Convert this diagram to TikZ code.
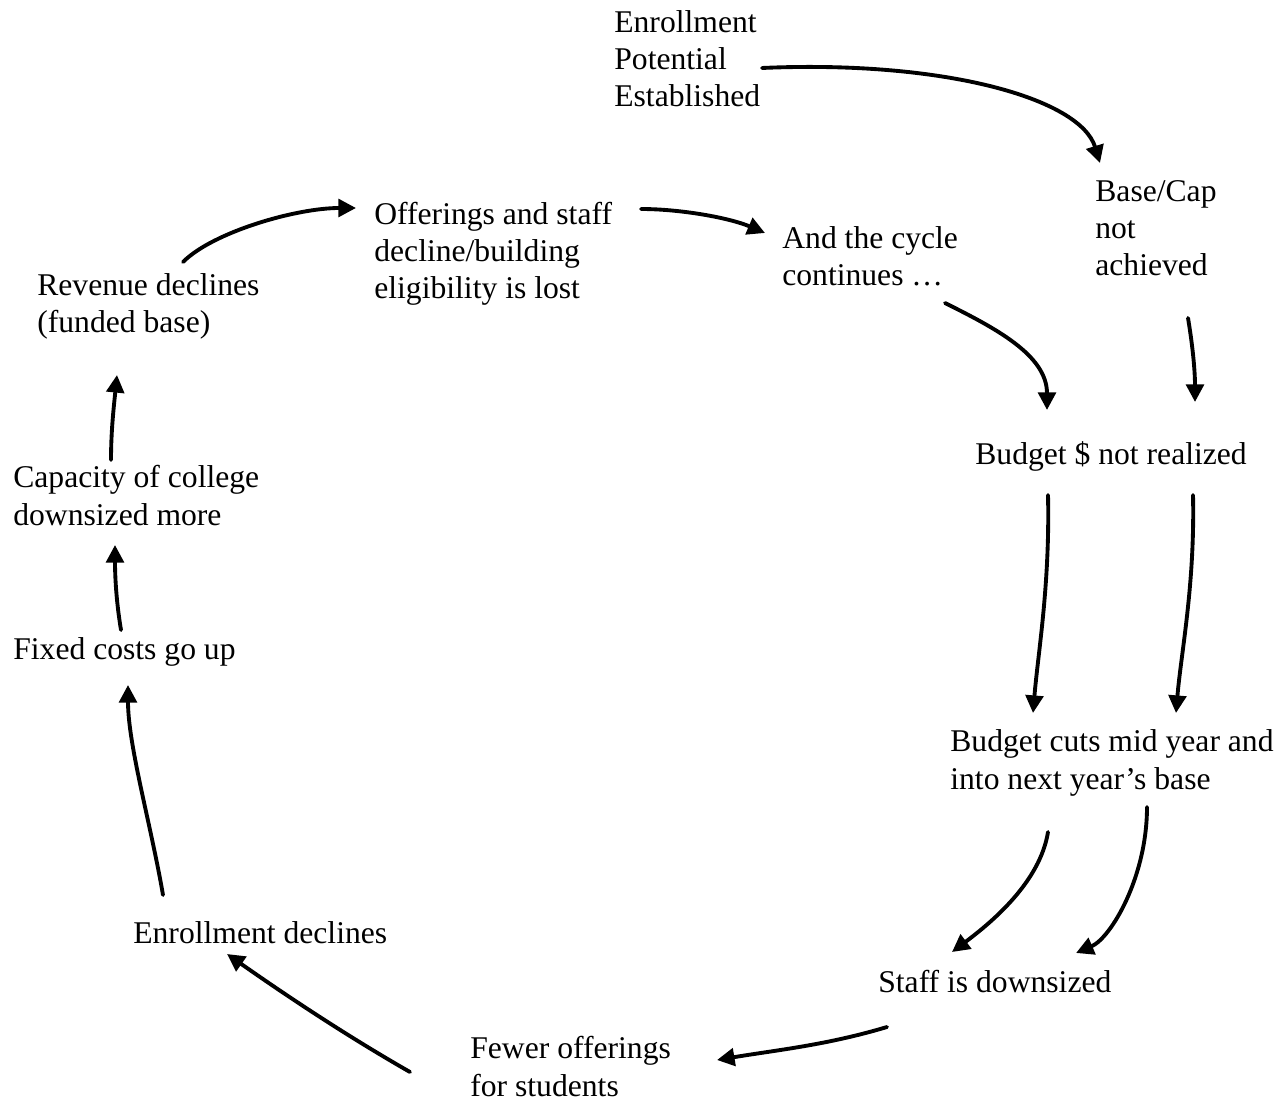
\documentclass[tikz,border=0pt]{standalone}
\usepackage{fontspec}
\setmainfont{Liberation Serif}
\usetikzlibrary{arrows.meta,calc}

\begin{document}
\begin{tikzpicture}[x=0.02cm, y=-0.02cm,
        lbl/.style={inner sep=0pt, anchor=base west, align=left,
            font=\fontsize{18}{21.3}\selectfont},
        arr/.style={line width=2.2pt, line cap=round,
            -{Triangle[length=10pt, width=10pt]}}]
        \useasboundingbox (0,0) rectangle (1281,1104);

        % nodes (placed at the baseline of their last line)
        \node[lbl] (enroll) at (614,107) {Enrollment\\Potential\\Established};
        \node[lbl] (basecap) at (1095,276) {Base/Cap\\not\\achieved};
        \node[lbl] (offer) at (374,299) {Offerings and staff\\decline/building\\eligibility is lost};
        \node[lbl] (cycle) at (782,286) {And the cycle\\continues …};
        \node[lbl] (revenue) at (37,333) {Revenue declines\\(funded base)};
        \node[lbl] (budget) at (975,465) {Budget \$ not realized};
        \node[lbl] (capacity) at (13,525) {Capacity of college\\downsized more};
        \node[lbl] (fixed) at (13,659) {Fixed costs go up};
        \node[lbl] (cuts) at (950,789) {Budget cuts mid year and\\into next year’s base};
        \node[lbl] (enrolldec) at (133,943) {Enrollment declines};
        \node[lbl] (staff) at (878,992) {Staff is downsized};
        \node[lbl] (fewer) at (470,1096) {Fewer offerings\\for students};

        % arrows
        \draw[arr] ($(enroll.base west)+(148,-39)$) .. controls +(180,-8) and +(-20,-65) .. ($(basecap.base west)+(5,-113)$);
        \draw[arr] ($(basecap.base west)+(93,42)$) .. controls +(5,30) and +(0,-30) .. ($(budget.base west)+(220,-63)$);
        \draw[arr] ($(cycle.base west)+(163,17)$) .. controls +(50,25) and +(0,-55) .. ($(budget.base west)+(72,-55)$);
        \draw[arr] ($(offer.base west)+(267,-90)$) .. controls +(40,0) and +(-35,-15) .. ($(cycle.base west)+(-17,-53)$);
        \draw[arr] ($(revenue.base west)+(146,-71)$) .. controls +(30,-30) and +(-60,0) .. ($(offer.base west)+(-18,-91)$);
        \draw[arr] ($(budget.base west)+(73,30)$) .. controls +(2,90) and +(5,-60) .. ($(cuts.base west)+(83,-76)$);
        \draw[arr] ($(budget.base west)+(218,30)$) .. controls +(2,90) and +(5,-60) .. ($(cuts.base west)+(226,-76)$);
        \draw[arr] ($(cuts.base west)+(98,43)$) .. controls +(-8,50) and +(40,-30) .. ($(staff.base west)+(74,-40)$);
        \draw[arr] ($(cuts.base west)+(197,18)$) .. controls +(0,70) and +(35,-15) .. ($(staff.base west)+(198,-39)$);
        \draw[arr] ($(staff.base west)+(9,35)$) .. controls +(-60,18) and +(60,-10) .. ($(fewer.base west)+(247,-36)$);
        \draw[arr] ($(fewer.base west)+(-60,-24)$) .. controls +(-70,-40) and +(50,35) .. ($(enrolldec.base west)+(94,11)$);
        \draw[arr] ($(enrolldec.base west)+(30,-48)$) .. controls +(-12,-70) and +(0,60) .. ($(fixed.base west)+(115,26)$);
        \draw[arr] ($(fixed.base west)+(108,-29)$) .. controls +(-5,-30) and +(0,30) .. ($(capacity.base west)+(102,20)$);
        \draw[arr] ($(capacity.base west)+(98,-65)$) .. controls +(0,-30) and +(-3,30) .. ($(revenue.base west)+(80,42)$);
\end{tikzpicture}
\end{document}
